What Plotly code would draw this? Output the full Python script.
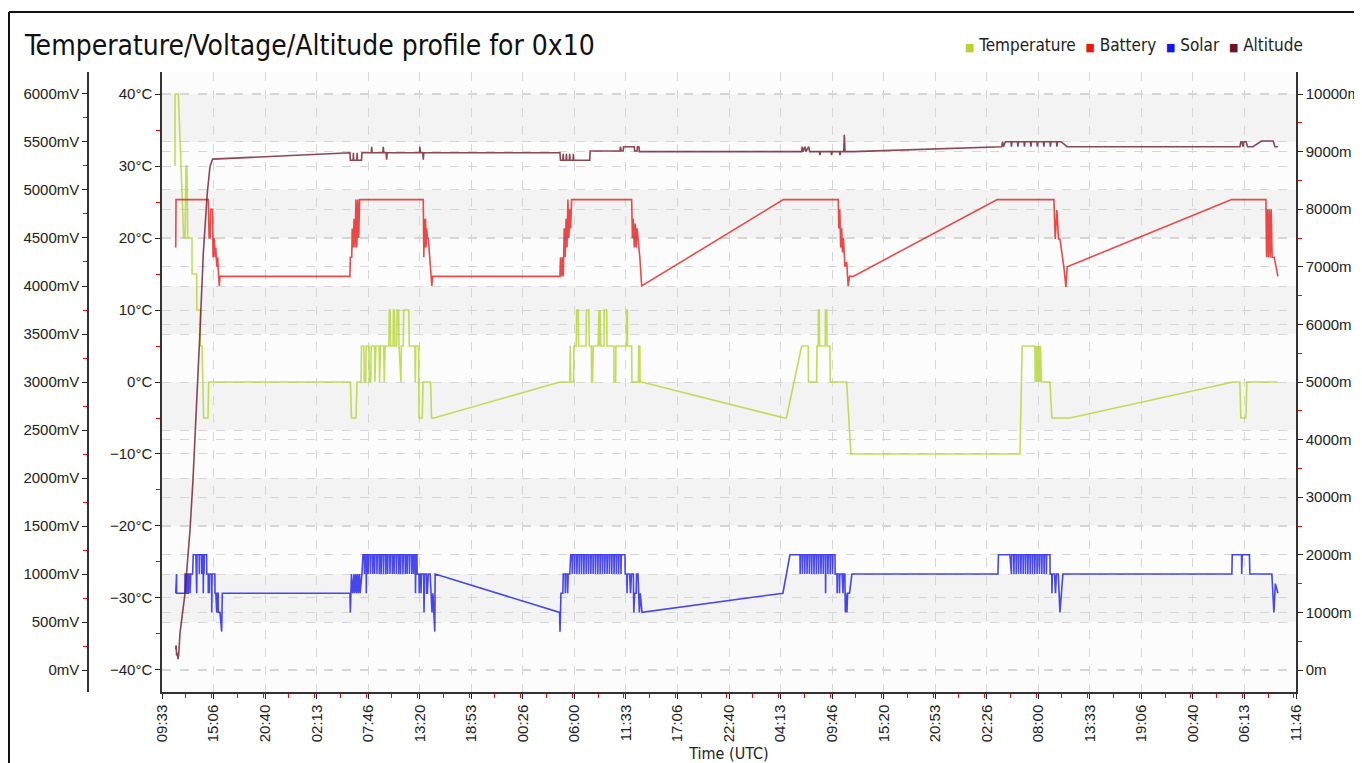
import pandas as pd
import plotly.graph_objects as go

# ---------------- data (hours after 09:33:20 on day 0, value) ----------------
START = pd.Timestamp("2016-07-01 09:33:20")
END = START + pd.Timedelta(seconds=440000)

temperature_c = [
    (1.40, 30), (1.41, 40), (1.76, 40), (2.34, 20), (2.48, 20), (2.59, 30), (2.69, 30), (2.77, 20),
    (3.23, 20), (3.24, 15), (3.74, 15), (3.75, 10), (4.13, 10), (4.14, 5), (4.31, 5), (4.32, 0),
    (4.40, 0), (4.49, -5), (4.96, -5), (5.03, 0),
    (20.31, 0), (20.42, -5), (20.91, -5), (21.02, 0),
    (21.45, 0), (21.50, 5), (21.75, 5), (21.80, 0), (21.95, 0), (22.00, 5), (22.30, 5), (22.35, 0),
    (22.50, 0), (22.55, 5), (22.90, 5), (22.95, 0), (23.05, 5), (23.40, 5), (23.45, 0), (23.55, 5),
    (23.90, 5), (23.95, 0), (24.05, 5), (24.45, 5), (24.50, 10), (24.60, 10), (24.65, 5), (24.90, 5),
    (24.95, 10), (25.05, 10), (25.10, 5), (25.30, 5), (25.35, 10), (25.50, 10), (25.55, 5), (25.75, 0),
    (25.80, 5), (26.00, 5), (26.05, 10), (26.60, 10), (26.65, 5), (27.25, 5), (27.30, 0), (27.35, 5),
    (27.65, 5), (27.70, -5), (28.05, -5), (28.13, 0), (28.95, 0), (29.05, -5), (29.31, -5),
    (42.89, 0), (43.95, 0), (44.00, 5), (44.05, 0), (44.35, 0), (44.40, 5), (44.65, 5), (44.69, 10),
    (44.86, 10), (44.90, 5), (45.70, 5), (45.75, 10), (46.00, 10), (46.05, 5), (46.28, 5), (46.31, 0),
    (46.40, 0), (46.48, 5), (47.00, 5), (47.02, 10), (47.10, 10), (47.15, 5), (47.21, 10), (47.30, 5),
    (47.64, 5), (47.66, 10), (47.93, 10), (47.96, 5), (48.70, 5), (48.72, 0), (48.90, 0), (48.92, 5),
    (50.05, 5), (50.08, 10), (50.15, 10), (50.18, 5), (50.62, 5), (50.65, 0), (51.35, 0), (51.38, 5),
    (51.50, 5), (51.53, 0), (51.70, 0),
    (67.10, -5), (67.30, -5), (68.94, 5), (69.65, 5), (69.68, 0), (70.56, 0), (70.59, 5), (70.73, 5),
    (70.76, 10), (70.84, 10), (70.87, 5), (71.48, 5), (71.51, 10), (71.64, 10), (71.67, 5), (71.99, 5),
    (72.02, 0), (73.79, 0), (74.25, -10), (92.47, -10), (92.71, 5), (94.08, 5), (94.12, 0), (94.18, 5),
    (94.28, 0), (94.34, 5), (94.45, 0), (94.50, 5), (94.62, 0), (94.68, 5), (94.80, 0), (95.70, 0),
    (95.91, -5), (97.85, -5), (115.46, 0), (116.17, 0), (116.28, -5), (116.82, -5), (116.93, 0),
    (120.27, 0),
]

battery_mv = [
    (1.48, 4400), (1.51, 4900), (4.99, 4900), (5.08, 4500), (5.20, 4500), (5.25, 4800), (5.45, 4800),
    (5.50, 4300), (5.60, 4400), (5.65, 4500), (5.72, 4300), (5.80, 4400), (5.90, 4200), (6.00, 4300),
    (6.10, 4100), (6.18, 4000), (6.25, 4100),
    (20.26, 4100), (20.30, 4300), (20.45, 4300), (20.50, 4600), (20.60, 4400), (20.70, 4700),
    (20.80, 4400), (20.90, 4900), (21.00, 4400), (21.10, 4900), (21.20, 4500), (21.30, 4900),
    (28.16, 4900), (28.22, 4300), (28.28, 4700), (28.34, 4400), (28.40, 4700), (28.46, 4400),
    (28.52, 4600), (28.60, 4500), (28.70, 4500), (29.08, 4000), (29.18, 4100),
    (42.89, 4100), (42.95, 4300), (43.05, 4100), (43.15, 4300), (43.25, 4100), (43.35, 4600),
    (43.45, 4300), (43.55, 4700), (43.65, 4400), (43.75, 4900), (43.85, 4500), (43.95, 4800),
    (44.05, 4600), (44.15, 4900),
    (50.62, 4900), (50.70, 4500), (50.78, 4700), (50.90, 4400), (51.00, 4650), (51.10, 4400),
    (51.20, 4600), (51.35, 4450), (51.50, 4300), (51.70, 4000),
    (66.96, 4900), (72.89, 4900), (72.95, 4600), (73.05, 4800), (73.15, 4400), (73.25, 4600),
    (73.35, 4350), (73.45, 4500), (73.60, 4200), (73.80, 4250), (73.95, 4000), (74.10, 4100),
    (74.50, 4100),
    (90.02, 4900), (96.13, 4900), (96.27, 4490), (96.45, 4790), (96.63, 4490), (96.78, 4490),
    (97.20, 4200), (97.42, 3990), (97.56, 4200),
    (115.28, 4900), (118.98, 4900), (119.05, 4300), (119.15, 4800), (119.25, 4300), (119.35, 4800),
    (119.45, 4300), (119.55, 4800), (119.65, 4300), (119.87, 4300), (120.27, 4100),
]

solar_mv = [
    (1.48, 800), (1.49, 1000), (1.57, 1000), (1.58, 800), (2.47, 800), (2.48, 1000), (2.56, 1000),
    (2.57, 800), (2.65, 800), (2.66, 1000), (2.75, 1000), (2.76, 800), (2.83, 800), (2.84, 1000),
    (3.00, 1000), (3.02, 800), (3.10, 1000), (3.30, 1000), (3.37, 1200), (3.65, 1200), (3.66, 1000),
    (3.70, 1200), (3.74, 800), (3.78, 1200), (4.01, 1200), (4.02, 1000), (4.06, 1200), (4.27, 1200),
    (4.28, 1000), (4.32, 1200), (4.44, 1200), (4.45, 800), (4.49, 1200), (4.53, 1000), (4.57, 1200),
    (4.81, 1200), (4.82, 1000), (4.98, 1000), (4.99, 800), (5.03, 1000), (5.09, 1000), (5.10, 800),
    (5.14, 1000), (5.35, 1000), (5.36, 600), (5.40, 1000), (5.70, 1000), (5.71, 800), (5.80, 800),
    (5.90, 600), (5.95, 800), (6.06, 800), (6.07, 600), (6.25, 600), (6.43, 400), (6.50, 800),
    (20.26, 800), (20.30, 600), (20.42, 1000), (20.55, 800), (20.70, 1000), (20.75, 800),
    (20.90, 1000), (20.95, 800), (21.10, 1000), (21.15, 800), (21.30, 1000), (21.35, 800),
    (21.55, 1000), (21.66, 1200),
    (21.80, 1200), (21.82, 1000), (21.86, 1200), (22.00, 1200), (22.02, 800), (22.06, 1200),
    (22.20, 1200), (22.22, 1000), (22.26, 1200), (22.45, 1200), (22.47, 1000), (22.51, 1200),
    (22.70, 1200), (22.72, 1000), (22.76, 1200), (22.90, 1200), (22.92, 1000), (22.96, 1200),
    (23.15, 1200), (23.17, 1000), (23.21, 1200), (23.40, 1200), (23.42, 1000), (23.46, 1200),
    (23.60, 1200), (23.62, 1000), (23.66, 1200), (23.85, 1200), (23.87, 1000), (23.91, 1200),
    (24.10, 1200), (24.12, 1000), (24.16, 1200), (24.30, 1200), (24.32, 1000), (24.36, 1200),
    (24.55, 1200), (24.57, 1000), (24.61, 1200), (24.80, 1200), (24.82, 1000), (24.86, 1200),
    (25.00, 1200), (25.02, 1000), (25.06, 1200), (25.25, 1200), (25.27, 1000), (25.31, 1200),
    (25.50, 1200), (25.52, 1000), (25.56, 1200), (25.70, 1200), (25.72, 1000), (25.76, 1200),
    (25.95, 1200), (25.97, 1000), (26.01, 1200), (26.20, 1200), (26.22, 1000), (26.26, 1200),
    (26.40, 1200), (26.42, 1000), (26.46, 1200), (26.65, 1200), (26.67, 1000), (26.71, 1200),
    (26.90, 1200), (26.92, 1000), (26.96, 1200), (27.10, 1200), (27.12, 1000), (27.16, 1200),
    (27.30, 1200), (27.32, 800), (27.36, 1200), (27.48, 1200), (27.50, 1000), (27.70, 1000),
    (27.72, 800), (27.76, 1000), (27.90, 1000), (27.92, 800), (27.96, 1000), (28.20, 1000),
    (28.24, 600), (28.30, 1000), (28.50, 1000), (28.52, 800), (28.60, 800), (28.70, 1000),
    (28.90, 1000), (29.10, 600), (29.20, 800), (29.40, 400), (29.44, 1000),
    (42.85, 600), (42.90, 400), (43.00, 800), (43.20, 800), (43.25, 1000), (43.45, 1000),
    (43.47, 800), (43.52, 1000), (43.70, 1000), (43.72, 800), (43.78, 1000), (43.95, 1000),
    (44.05, 1200),
    (44.20, 1200), (44.22, 1000), (44.26, 1200), (44.45, 1200), (44.47, 1000), (44.51, 1200),
    (44.70, 1200), (44.72, 1000), (44.76, 1200), (44.95, 1200), (44.97, 1000), (45.01, 1200),
    (45.20, 1200), (45.22, 1000), (45.26, 1200), (45.45, 1200), (45.47, 1000), (45.51, 1200),
    (45.70, 1200), (45.72, 1000), (45.76, 1200), (45.95, 1200), (45.97, 1000), (46.01, 1200),
    (46.20, 1200), (46.22, 1000), (46.26, 1200), (46.45, 1200), (46.47, 1000), (46.51, 1200),
    (46.70, 1200), (46.72, 1000), (46.76, 1200), (46.95, 1200), (46.97, 1000), (47.01, 1200),
    (47.20, 1200), (47.22, 1000), (47.26, 1200), (47.45, 1200), (47.47, 1000), (47.51, 1200),
    (47.70, 1200), (47.72, 1000), (47.76, 1200), (47.95, 1200), (47.97, 1000), (48.01, 1200),
    (48.20, 1200), (48.22, 1000), (48.26, 1200), (48.45, 1200), (48.47, 1000), (48.51, 1200),
    (48.70, 1200), (48.72, 1000), (48.76, 1200), (48.95, 1200), (48.97, 1000), (49.01, 1200),
    (49.20, 1200), (49.22, 1000), (49.26, 1200), (49.45, 1200), (49.47, 1000), (49.51, 1200),
    (49.90, 1200), (49.92, 1000), (50.10, 1000), (50.12, 800), (50.16, 1000), (50.40, 1000),
    (50.42, 800), (50.50, 800), (50.60, 1000), (50.80, 1000), (50.85, 600), (50.95, 800),
    (51.10, 800), (51.15, 1000), (51.30, 1000), (51.45, 600), (51.55, 800), (51.73, 600),
    (66.92, 800), (67.68, 1200), (68.76, 1200), (68.78, 1000), (68.82, 1200), (69.00, 1200),
    (69.02, 1000), (69.06, 1200), (69.25, 1200), (69.27, 1000), (69.31, 1200), (69.50, 1200),
    (69.52, 1000), (69.56, 1200), (69.75, 1200), (69.77, 1000), (69.81, 1200), (70.00, 1200),
    (70.02, 1000), (70.06, 1200), (70.25, 1200), (70.27, 1000), (70.31, 1200), (70.50, 1200),
    (70.52, 1000), (70.56, 1200), (70.75, 1200), (70.77, 1000), (70.81, 1200), (71.00, 1200),
    (71.02, 1000), (71.06, 1200), (71.25, 1200), (71.27, 1000), (71.31, 1200), (71.50, 1200),
    (71.52, 800), (71.56, 1200), (71.75, 1200), (71.77, 1000), (71.81, 1200), (72.00, 1200),
    (72.02, 1000), (72.06, 1200), (72.25, 1200), (72.27, 1000), (72.31, 1200), (72.53, 1200),
    (72.55, 1000), (72.75, 1000), (72.77, 800), (72.81, 1000), (73.00, 1000), (73.02, 800),
    (73.06, 1000), (73.30, 1000), (73.32, 800), (73.40, 800), (73.45, 1000), (73.60, 1000),
    (73.65, 600), (73.70, 800), (73.82, 600), (73.90, 800), (74.10, 800), (74.36, 1000),
    (90.10, 1000), (90.15, 1200), (91.39, 1200), (91.55, 1000), (91.59, 1200), (91.80, 1200),
    (91.82, 1000), (91.86, 1200), (92.05, 1200), (92.07, 1000), (92.11, 1200), (92.30, 1200),
    (92.32, 1000), (92.36, 1200), (92.55, 1200), (92.57, 1000), (92.61, 1200), (92.80, 1200),
    (92.82, 1000), (92.86, 1200), (93.05, 1200), (93.07, 1000), (93.11, 1200), (93.30, 1200),
    (93.32, 1000), (93.36, 1200), (93.55, 1200), (93.57, 1000), (93.61, 1200), (93.80, 1200),
    (93.82, 1000), (93.86, 1200), (94.05, 1200), (94.07, 1000), (94.11, 1200), (94.30, 1200),
    (94.32, 1000), (94.36, 1200), (94.55, 1200), (94.57, 1000), (94.61, 1200), (94.80, 1200),
    (94.82, 1000), (94.86, 1200), (95.05, 1200), (95.07, 1000), (95.11, 1200), (95.30, 1200),
    (95.32, 1000), (95.36, 1200), (95.70, 1200), (95.72, 1000), (95.90, 1000), (95.92, 800),
    (95.96, 1000), (96.20, 1000), (96.22, 800), (96.30, 800), (96.40, 1000), (96.60, 1000),
    (96.78, 600), (96.90, 800), (97.10, 1000),
    (115.31, 1000), (115.35, 1200), (116.35, 1200), (116.37, 1000), (116.43, 1200), (117.20, 1200),
    (117.25, 1000), (119.62, 1000), (119.84, 600), (120.00, 900), (120.27, 800),
]

altitude_m = [
    (1.48, 360), (1.52, 430), (1.58, 250), (1.65, 300), (1.72, 190), (1.80, 260), (1.94, 640),
    (2.30, 1040), (2.48, 1330), (2.73, 1850), (3.02, 2430), (3.34, 3300), (3.66, 4300), (4.10, 5900),
    (4.45, 7230), (4.88, 8280), (5.17, 8740), (5.46, 8870),
    (20.26, 8980), (20.30, 8850), (20.60, 8850), (20.63, 8980), (20.66, 8850), (21.00, 8850),
    (21.03, 8980), (21.06, 8850), (21.50, 8850), (21.55, 8980), (22.55, 8980), (22.60, 9085),
    (22.65, 8980), (23.80, 8980), (23.85, 9085), (23.90, 8980), (24.15, 8980), (24.21, 8860),
    (24.27, 8980), (27.75, 8980), (27.80, 9085), (27.85, 8980), (28.10, 8980), (28.16, 8860),
    (28.22, 8980),
    (42.89, 8980), (42.95, 8850), (43.20, 8850), (43.24, 8960), (43.28, 8850), (43.55, 8850),
    (43.59, 8960), (43.63, 8850), (43.90, 8850), (43.94, 8960), (43.98, 8850), (44.30, 8850),
    (44.34, 8960), (44.38, 8850), (46.10, 8850), (46.15, 9010), (49.36, 9010), (49.42, 9085),
    (49.48, 9010), (49.70, 9010), (49.75, 9085), (50.90, 9085), (50.95, 9010), (51.20, 9010),
    (51.25, 9085), (51.40, 9085), (51.45, 9000),
    (68.94, 9000), (69.00, 9085), (69.10, 9000), (69.30, 9085), (69.40, 9000), (69.70, 9085),
    (69.80, 9000), (70.85, 9000), (70.91, 8940), (70.97, 9000), (72.11, 9000), (72.17, 8940),
    (72.23, 9000), (73.00, 9000), (73.07, 8940), (73.14, 9000), (73.48, 9000), (73.54, 9290),
    (73.62, 9000), (74.50, 9000),
    (90.13, 9085), (90.50, 9085), (90.60, 9171), (90.70, 9085), (90.90, 9171), (91.50, 9171),
    (91.55, 9085), (91.62, 9171), (92.20, 9171), (92.25, 9085), (92.32, 9171), (92.90, 9171),
    (92.95, 9085), (93.02, 9171), (93.60, 9171), (93.65, 9085), (93.72, 9171), (94.30, 9171),
    (94.35, 9085), (94.42, 9171), (95.00, 9171), (95.05, 9085), (95.12, 9171), (95.70, 9171),
    (95.75, 9085), (95.82, 9171), (96.40, 9171), (96.45, 9085), (96.52, 9171), (96.90, 9171),
    (97.56, 9085),
    (116.18, 9085), (116.28, 9171), (116.40, 9171), (116.50, 9085), (116.62, 9171), (116.85, 9171),
    (117.00, 9085), (117.58, 9085), (118.51, 9184), (119.76, 9184), (119.95, 9085), (120.27, 9085),
]

series_names = ["Temperature", "Battery", "Solar", "Altitude"]
series_colors = ["#b3d52e", "#e81818", "#1616e8", "#6e1428"]


def split(points):
    hrs = [p[0] for p in points]
    vals = [p[1] for p in points]
    times = [START + pd.Timedelta(hours=h) for h in hrs]
    return times, vals


# The page body adds an 8px offset; the figure is sized so that it ends at the window edge.
W, H = 1354, 755
PLOT_L, PLOT_R, PLOT_T, PLOT_B = 154, 1288, 64, 684   # plot-area box in figure px
ML, MR, MT, MB = 0, W - PLOT_R, PLOT_T, H - PLOT_B
PW = W - ML - MR
PH = H - MT - MB
V_AXIS = 80

NARROW = "Liberation Sans Narrow, DejaVu Sans Condensed, Arial Narrow, sans-serif"
REG = "Liberation Sans, Arial, sans-serif"
GRID = "#d6d6d6"


def py(px_from_top):
    """figure pixel row -> paper y"""
    return (PLOT_B - px_from_top) / PH


fig = go.Figure()

data_sets = [(temperature_c, "y"), (battery_mv, "y2"), (solar_mv, "y2"), (altitude_m, "y3")]
for (pts, yax), name, col in zip(data_sets, series_names, series_colors):
    t, v = split(pts)
    fig.add_trace(go.Scatter(x=t, y=v, yaxis=yax, mode="lines", name=name,
                             line=dict(color=col, width=1.6), opacity=0.78,
                             showlegend=False, hoverinfo="x+y"))

common_y = dict(showline=True, linecolor="#333", linewidth=1.5, ticks="outside", ticklen=5,
                tickcolor="#222", showgrid=True, gridcolor=GRID, griddash="dash", gridwidth=1,
                zeroline=False, tickformat="d", tickfont=dict(family=REG, size=15, color="#222"))

fig.update_layout(
    width=W, height=H,
    margin=dict(l=ML, r=MR, t=MT, b=MB, autoexpand=False),
    paper_bgcolor="white", plot_bgcolor="#fcfcfc",
    font=dict(family=REG, size=15, color="#222"),
    showlegend=False,
    title=dict(text="Temperature/Voltage/Altitude profile for 0x10",
               xref="container", x=17 / W, xanchor="left",
               yref="container", y=1 - 37 / H, yanchor="middle",
               font=dict(family=NARROW, size=28, color="#111")),
    xaxis=dict(type="date", domain=[PLOT_L / PW, 1], range=[START, END],
               tick0=START, dtick=20000000, tickformat="%H:%M", tickangle=-90,
               ticks="outside", ticklen=5, tickcolor="#222",
               showline=True, linecolor="#333", linewidth=1.5,
               showgrid=True, gridcolor=GRID, griddash="dash", zeroline=False,
               tickfont=dict(family=REG, size=15, color="#222"),
               minor=dict(dtick=10000000, ticklen=4, tickcolor="red", ticks="outside", showgrid=False),
               title=dict(text="Time (UTC)", standoff=14, font=dict(family=NARROW, size=16)),
               anchor="y"),
    yaxis=dict(range=[-43.06, 43.06], tick0=0, dtick=10, ticksuffix="°C", anchor="x", side="left",
               minor=dict(dtick=5, ticklen=4, tickcolor="red", ticks="outside", showgrid=False),
               **common_y),
    yaxis2=dict(range=[-229, 6229], tick0=0, dtick=500, ticksuffix="mV", overlaying="y",
                side="left", anchor="free", position=V_AXIS / PW,
                minor=dict(dtick=250, ticklen=4, tickcolor="red", ticks="outside", showgrid=False),
                **common_y),
    yaxis3=dict(range=[-382, 10382], tick0=0, dtick=1000, ticksuffix="m", overlaying="y",
                side="right", anchor="x",
                minor=dict(dtick=500, ticklen=4, tickcolor="red", ticks="outside", showgrid=False),
                **common_y),
)

# alternating row fill (voltage rows)
band_rows = [(5500, 6000), (4500, 5000), (3500, 4000), (2500, 3000), (1500, 2000), (500, 1000)]
for lo, hi in band_rows:
    fig.add_shape(type="rect", xref="x domain", yref="y2", x0=0, x1=1, y0=lo, y1=hi,
                  fillcolor="#f3f3f3", line=dict(width=0), layer="below")

# outer frame of the chart panel (top and left edges)
frame_y = py(4)
frame_x = 1 / PW
fig.add_shape(type="line", xref="paper", yref="paper", x0=frame_x, x1=1.2, y0=frame_y, y1=frame_y,
              line=dict(color="#111", width=2))
fig.add_shape(type="line", xref="paper", yref="paper", x0=frame_x, x1=frame_x, y0=frame_y, y1=-0.3,
              line=dict(color="#111", width=2))

# legend: coloured squares followed by series names
legend_parts = []
for name, col in zip(series_names, series_colors):
    legend_parts.append(f"<span style='color:{col};font-size:11px'>■</span> {name}")
legend_text = "&nbsp;&nbsp;".join(legend_parts)
fig.add_annotation(xref="paper", yref="paper", x=1297 / PW, y=py(37), xanchor="right",
                   yanchor="middle", showarrow=False, text=legend_text,
                   font=dict(family=NARROW, size=17, color="#222"))

fig.write_html("out.html")
